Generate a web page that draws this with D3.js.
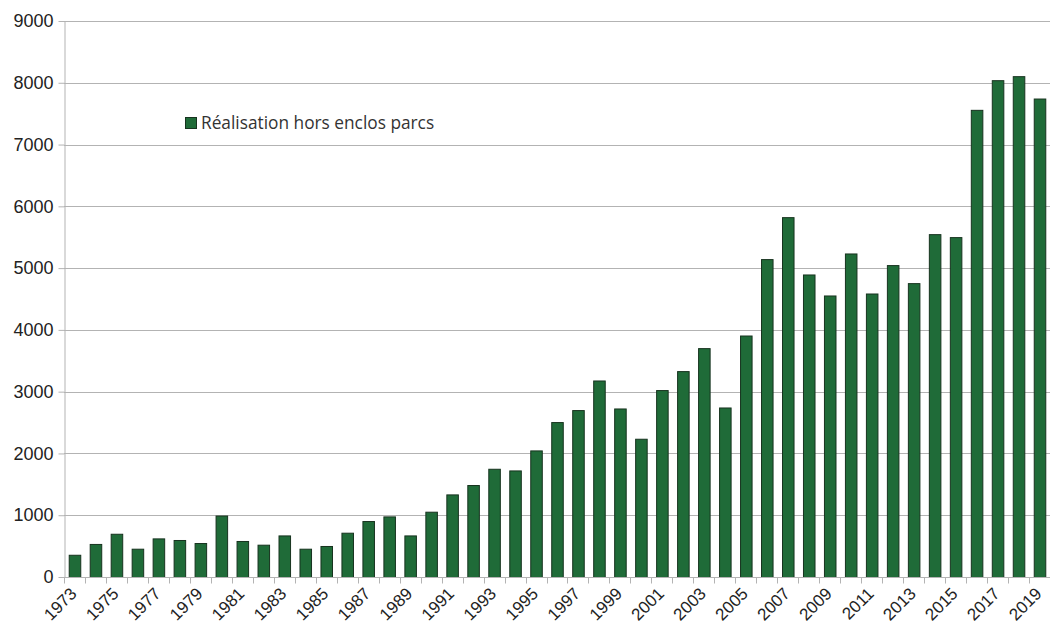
<!DOCTYPE html>
<html>
<head>
<meta charset="utf-8">
<script src="https://cdn.jsdelivr.net/npm/d3@7"></script>
<style>
  html, body { margin: 0; padding: 0; background: #fff; }
  svg { display: block; }
</style>
</head>
<body>
<svg id="chart" width="1050" height="628"></svg>
<script>
// Years on the category axis
const years = d3.range(1973, 2020).map(String);

// Annual "Réalisation hors enclos parcs" values, one per year
const realisation = [
  360, 535, 700, 458, 625, 599, 550, 995, 583, 523,
  673, 458, 502, 717, 906, 981, 673, 1057, 1337, 1489,
  1752, 1725, 2049, 2508, 2702, 3181, 2728, 2238, 3026, 3333,
  3705, 2744, 3909, 5146, 5825, 4897, 4557, 5237, 4589, 5049,
  4757, 5550, 5502, 7562, 8042, 8107, 7745
];

// Value axis ticks
const yTicks = [0, 1000, 2000, 3000, 4000, 5000, 6000, 7000, 8000, 9000];

const seriesName = "Réalisation hors enclos parcs";

const svg = d3.select("#chart");
const margin = { left: 64, right: 0, top: 21, bottom: 51 };
const W = 1050, H = 628;

const x = d3.scaleBand()
  .domain(years)
  .range([margin.left, W - margin.right])
  .paddingInner(0.45)
  .paddingOuter(0.225);

const y = d3.scaleLinear()
  .domain([0, 9000])
  .range([H - margin.bottom, margin.top]);

// Horizontal gridlines
svg.append("g")
  .selectAll("line")
  .data(yTicks)
  .join("line")
  .attr("x1", margin.left)
  .attr("x2", W - margin.right)
  .attr("y1", d => Math.round(y(d)) + 0.5)
  .attr("y2", d => Math.round(y(d)) + 0.5)
  .attr("stroke", "#b3b3b3")
  .attr("stroke-width", 1);

// Y axis
const yAxis = svg.append("g")
  .attr("transform", `translate(${margin.left + 0.5},0)`)
  .call(d3.axisLeft(y).tickValues(yTicks).tickSize(6).tickSizeOuter(0).tickPadding(5).tickFormat(d3.format("d")));
yAxis.select(".domain").attr("stroke", "#b3b3b3");
yAxis.selectAll(".tick line").attr("stroke", "#b3b3b3");
yAxis.selectAll(".tick text")
  .attr("font-family", "'Liberation Sans', Arial, sans-serif")
  .attr("font-size", 18)
  .attr("fill", "#222");

// X axis: ticks at category boundaries
const step = x.step();
const x0 = margin.left;
const boundaries = d3.range(years.length + 1).map(i => x0 + i * step);
const yBase = Math.round(y(0)) + 0.5;
svg.append("g")
  .selectAll("line")
  .data(boundaries)
  .join("line")
  .attr("x1", d => Math.round(d) + 0.5)
  .attr("x2", d => Math.round(d) + 0.5)
  .attr("y1", yBase)
  .attr("y2", yBase + 6)
  .attr("stroke", "#b3b3b3");

// Bars
svg.append("g")
  .selectAll("rect")
  .data(years.map((yr, i) => ({ yr, v: realisation[i] })))
  .join("rect")
  .attr("x", d => x(d.yr) + 0.5)
  .attr("y", d => y(d.v) + 0.5)
  .attr("width", x.bandwidth())
  .attr("height", d => y(0) - y(d.v))
  .attr("fill", "#1f6b38")
  .attr("stroke", "#17331f")
  .attr("stroke-width", 1);

// Baseline
svg.append("line")
  .attr("x1", margin.left)
  .attr("x2", W - margin.right)
  .attr("y1", yBase)
  .attr("y2", yBase)
  .attr("stroke", "#b3b3b3");

// Year labels, every other year, rotated
svg.append("g")
  .selectAll("text")
  .data(years.filter((d, i) => i % 2 === 0))
  .join("text")
  .attr("transform", d => `translate(${x(d) + x.bandwidth() / 2 - 1},${yBase + 13}) rotate(-45)`)
  .attr("text-anchor", "end")
  .attr("dy", "0.35em")
  .attr("font-family", "'Liberation Sans', Arial, sans-serif")
  .attr("font-size", 17)
  .attr("fill", "#222")
  .text(d => d);

// Legend
const legend = svg.append("g").attr("transform", "translate(185,117)");
legend.append("rect")
  .attr("x", 0.5).attr("y", 0.5)
  .attr("width", 11).attr("height", 11)
  .attr("fill", "#1f6b38")
  .attr("stroke", "#17331f");
legend.append("text")
  .attr("x", 16)
  .attr("y", 11.5)
  .attr("font-family", "'Open Sans', sans-serif")
  .attr("font-size", 17.3)
  .attr("fill", "#333")
  .text(seriesName);
</script>
</body>
</html>
